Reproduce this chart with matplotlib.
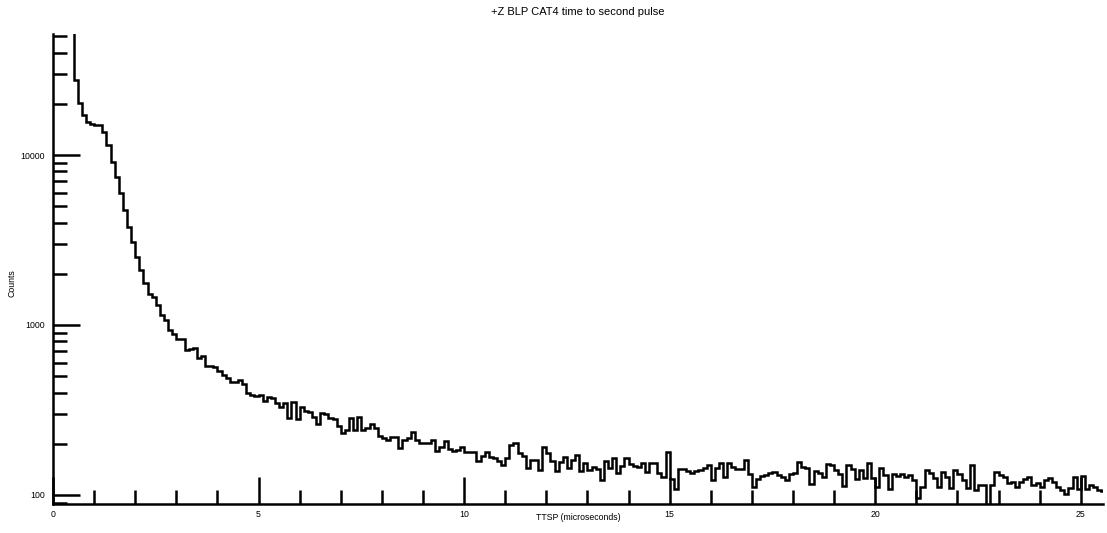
import matplotlib.pyplot as plt
import numpy as np
from matplotlib.ticker import MultipleLocator, LogLocator, NullFormatter, FuncFormatter

plt.rcParams['font.family'] = ['Liberation Sans', 'DejaVu Sans']

# Histogram of time to second pulse, 0.1 us bins from 0 to 25.6 us
bin_width = 0.1

# 0.0 - 0.4 us: above the top of the frame (clipped)
counts_peak = [90000, 120000, 150000, 110000, 70000]
# 0.5 - 4.8 us
counts_fall = [27600, 20140, 17200, 15700, 15220, 15100, 15100, 13700, 11450, 9130,
               7450, 5950, 4750, 3790, 3090, 2520, 2120, 1770, 1520, 1470,
               1310, 1140, 1070, 940, 890, 830, 825, 710, 720, 730,
               640, 660, 575, 570, 565, 535, 510, 485, 465, 465,
               475, 450, 400, 387]
# 4.9 - 9.9 us
counts_knee = [384, 386, 357, 379, 370, 349, 331, 346, 285, 351,
               280, 328, 312, 309, 289, 262, 302, 299, 282, 280,
               256, 233, 241, 285, 241, 289, 241, 247, 262, 247,
               222, 215, 211, 220, 220, 188, 211, 215, 236, 211,
               203, 203, 201, 211, 182, 192, 208, 186, 182, 184, 192]
# 10.0 - 14.9 us
counts_tail1 = [180, 180, 179, 159, 170, 180, 167, 164, 159, 150,
                164, 197, 201, 176, 170, 145, 161, 160, 140, 192,
                176, 159, 138, 157, 167, 144, 161, 172, 138, 154,
                140, 147, 142, 123, 158, 144, 166, 134, 148, 164,
                152, 149, 147, 154, 137, 154, 154, 135, 127, 180]
# 15.0 - 19.9 us
counts_tail2 = [125, 108, 142, 142, 139, 134, 139, 140, 144, 150,
                123, 145, 155, 128, 155, 147, 142, 142, 161, 133,
                111, 124, 129, 131, 135, 137, 131, 128, 122, 133,
                134, 157, 146, 144, 116, 139, 135, 128, 152, 150,
                140, 133, 113, 150, 142, 124, 140, 126, 154, 126]
# 20.0 - 25.5 us
counts_tail3 = [111, 144, 131, 108, 133, 129, 133, 127, 131, 123,
                96, 112, 140, 134, 126, 111, 137, 127, 110, 140,
                133, 123, 110, 150, 107, 114, 114, 80, 115, 137,
                131, 127, 118, 120, 111, 120, 124, 127, 115, 118,
                111, 123, 126, 120, 112, 107, 101, 110, 127, 108,
                129, 108, 115, 111, 107, 105]

counts = np.array(counts_peak + counts_fall + counts_knee + counts_tail1 + counts_tail2 + counts_tail3)
edges = np.arange(len(counts) + 1) * bin_width

fig = plt.figure(figsize=(11.07, 5.33), dpi=100)
ax = fig.add_axes([53 / 1107, 29 / 533, 1050 / 1107, 470 / 533])

ax.stairs(counts, edges, baseline=None, color='black', linewidth=1.8)

ax.set_yscale('log')
ax.set_xlim(0, 25.54)
ax.set_ylim(88.5, 51500)

# ROOT-like frame: only left and bottom axes, ticks pointing inward
for side in ['top', 'right']:
    ax.spines[side].set_visible(False)
for side in ['left', 'bottom']:
    ax.spines[side].set_linewidth(1.8)

ax.xaxis.set_major_locator(MultipleLocator(5))
ax.xaxis.set_minor_locator(MultipleLocator(1))
ax.yaxis.set_major_locator(LogLocator(base=10))
ax.yaxis.set_minor_locator(LogLocator(base=10, subs=np.arange(2, 10), numticks=20))
ax.yaxis.set_major_formatter(FuncFormatter(lambda v, _: f"{int(round(v))}"))
ax.yaxis.set_minor_formatter(NullFormatter())

ax.tick_params(which='major', direction='in', length=19.4, width=1.8, labelsize=6.3, color='black')
ax.tick_params(which='minor', direction='in', length=10, width=1.8, color='black')
ax.tick_params(axis='x', which='major', pad=4)
ax.tick_params(axis='y', which='major', pad=6)
ax.tick_params(top=False, right=False, which='both')

# Labels and title
ax.set_xlabel('TTSP (microseconds)', fontsize=6.3)
ax.xaxis.set_label_coords(0.5, -13 / 470)
ax.xaxis.label.set_va('center')
ax.set_ylabel('Counts', fontsize=6.3)
ax.yaxis.set_label_coords(-41 / 1050, 0.47)
ax.yaxis.label.set_va('center')

fig.text(578 / 1107, 1 - 12 / 533, '+Z BLP CAT4 time to second pulse',
         ha='center', va='center', fontsize=8)

plt.savefig('out.png', dpi=100)
